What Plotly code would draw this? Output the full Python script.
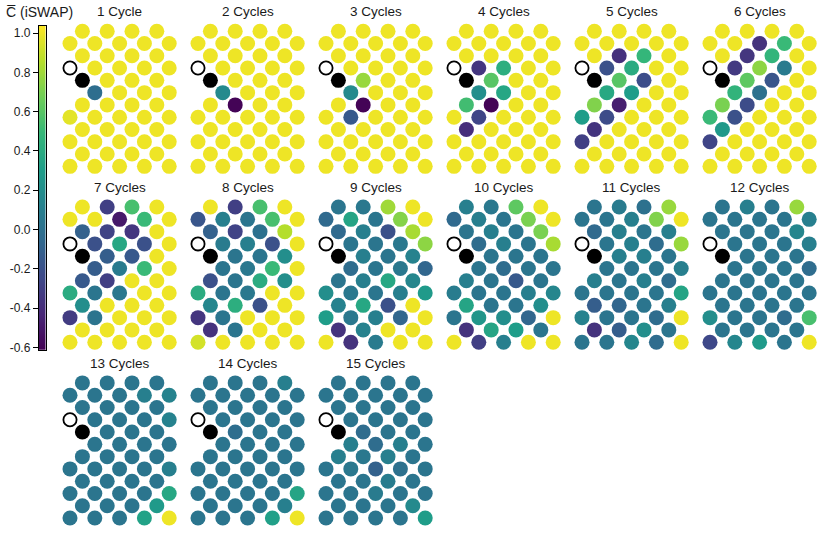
import numpy as np
import plotly.graph_objects as go

# ---------------- data ----------------
titles = ["1 Cycle"] + [f"{n} Cycles" for n in range(2, 16)]

# lattice sites (column, row) of the coloured qubits, listed row by row
site_row = ([0] * 4 + [1] * 5 + [2] * 4 + [3] * 4 + [4] * 3 + [5] * 4 +
            [6] * 4 + [7] * 5 + [8] * 4 + [9] * 5 + [10] * 4 + [11] * 5)
site_col = [1, 3, 5, 7,
            0, 2, 4, 6, 8,
            1, 3, 5, 7,
            2, 4, 6, 8,
            3, 5, 7,
            2, 4, 6, 8,
            1, 3, 5, 7,
            0, 2, 4, 6, 8,
            1, 3, 5, 7,
            0, 2, 4, 6, 8,
            1, 3, 5, 7,
            0, 2, 4, 6, 8]
measure_site = [0, 3]     # open circle (col, row)
butterfly_site = [1, 4]   # black circle (col, row)

c01 = [1, 1, 1, 1,  1, 1, 1, 1, 1,  1, 1, 1, 1,  1, 1, 1, 1,  1, 1, 1,
       -0.02, 1, 1, 1,  1, 1, 1, 1,  0.97, 1, 1, 1, 1,  1, 1, 1, 1,
       1, 1, 1, 1, 1,  1, 1, 1, 1,  1, 1, 1, 1, 1]
c02 = [1, 1, 1, 1,  1, 1, 1, 1, 1,  1, 1, 1, 1,  1, 1, 1, 1,  1, 1, 1,
       0.17, 1, 1, 1,  1, -0.6, 1, 1,  1, 1, 1, 1, 1,  1, 1, 1, 1,
       1, 1, 1, 1, 1,  1, 1, 1, 1,  1, 1, 1, 1, 1]
c03 = [1, 1, 1, 1,  1, 1, 1, 1, 1,  1, 1, 1, 1,  1, 1, 1, 1,  0.78, 1, 1,
       0.17, 1, 1, 1,  1, -0.6, 1, 1,  1, -0.15, 1, 1, 1,  1, 1, 1, 1,
       1, 1, 1, 1, 1,  1, 1, 1, 1,  1, 1, 1, 1, 1]
c04 = [1, 1, 1, 1,  1, 1, 1, 1, 1,  1, 1, 1, 1,  -0.35, 0.42, 1, 1,  0.6, 1, 1,
       0.2, 0.36, 1, 1,  0.53, -0.6, 1, 1,  1, -0.27, 1, 1, 1,  -0.4, 1, 1, 1,
       1, 1, 1, 1, 1,  1, 1, 1, 1,  1, 1, 1, 1, 1]
c05 = [1, 1, 1, 1,  1, 1, 1, 1, 1,  1, -0.38, 0.48, 1,  -0.2, 0.4, 1, 1,  0.6, -0.22, 1,
       0.38, 0.3, 1, 1,  0.72, -0.47, 1, 1,  0.3, -0.23, 1, 1, 1,  -0.36, 1, 1, 1,
       -0.3, 1, 1, 1, 1,  1, 1, 1, 1,  1, 1, 1, 1, 1]
c06 = [1, 1, 1, 1,  1, 1, -0.37, 0.5, 1,  1, -0.35, 0.47, 1,  -0.33, 0.75, 0.07, 1,  0.62, -0.17, 1,
       0.46, 0.0, 1, 1,  0.7, -0.23, 1, 1,  0.5, -0.2, 1, 1, 1,  0.27, 1, 1, 1,
       -0.27, 1, 1, 1, 1,  1, 1, 1, 1,  1, 1, 1, 1, 1]
c07 = [1, -0.3, 0.55, 1,  1, 1, -0.5, 0.5, 1,  -0.1, -0.28, -0.35, 1,  -0.2, 0.37, -0.2, 1,
       -0.12, -0.15, 1,  -0.13, 0.07, 0.5, 1,  -0.15, -0.3, 1, 1,  0.4, 0.03, 0.05, 1, 1,
       0.2, 1, 1, 1,  -0.32, 0.02, 1, 1, 1,  1, 1, 1, 1,  1, 1, 1, 1, 1]
c08 = [1, -0.3, 0.55, 1,  -0.17, 0.1, 0.03, 0.55, 1,  -0.1, -0.28, 0.0, 0.85,  0.07, 0.1, -0.2, 1,
       0.03, 0.03, 0.2,  0.03, 0.05, 0.5, 1,  -0.2, 0.03, 0.4, 0.2,  0.4, 0.03, 0.05, 1, 1,
       0.15, 0.42, -0.2, 1,  -0.35, 0.03, 1, 1, 1,  -0.37, 0.03, 1, 1,  0.93, 1, 1, 1, 1]
c09 = [0.03, 0.05, 0.8, 1,  -0.05, 0.35, 0.03, 0.73, 1,  -0.05, 0.1, -0.2, 0.82,  0.03, 0.03, 0.05, 0.75,
       0.1, 0.03, 0.12,  -0.03, 0.03, 0.05, -0.07,  0.03, 0.1, 0.37, 0.15,  0.2, 0.05, 0.03, 0.1, 0.28,
       0.12, 0.37, -0.2, 1,  0.3, 0.05, 0.1, -0.07, 1,  -0.37, 0.12, 1, 1,  1, -0.37, 0.07, 1, 1]
c10 = [0.1, 0.05, 0.62, 1,  -0.05, 0.1, 0.03, 0.7, 1,  0.03, 0.1, 0.03, 0.7,  -0.03, 0.1, 0.03, 0.82,
       0.03, 0.03, 0.03,  0.03, -0.03, 0.03, 0.03,  0.1, 0.03, -0.15, 0.03,  0.08, 0.03, 0.03, 0.1, 0.15,
       0.35, 0.03, 0.03, 0.2,  0.03, 0.25, 0.2, -0.07, 1,  -0.37, 0.35, 0.3, 0.03,  1, -0.3, 0.1, 1, 1]
c11 = [0.03, 0.07, 0.0, 0.78,  0.03, 0.03, 0.1, 0.72, 1,  -0.05, 0.1, 0.03, 0.1,  0.03, 0.1, -0.03, 0.78,
       0.1, 0.1, 0.03,  0.03, 0.03, 0.03, 0.1,  0.1, 0.03, 0.1, -0.03,  0.03, 0.03, 0.03, 0.03, 0.35,
       -0.12, -0.07, 0.03, 0.1,  0.12, 0.03, 0.03, -0.03, 1,  -0.37, -0.12, 0.2, 0.03,  0.03, 0.03, 0.15, -0.03, 1]
c12 = [0.03, 0.1, 0.03, 0.78,  0.03, 0.03, 0.03, 0.03, 0.1,  0.03, 0.03, 0.03, 0.15,  0.03, 0.03, 0.03, 0.1,
       0.03, 0.03, 0.03,  0.03, 0.03, 0.03, -0.03,  0.03, 0.03, 0.03, 0.03,  0.03, 0.03, 0.03, 0.03, 0.03,
       0.03, 0.03, 0.03, 0.03,  0.2, 0.03, 0.03, -0.03, 0.55,  0.03, 0.03, 0.03, 0.03,  -0.25, 0.15, 0.28, 0.03, 1]
c13 = [0.03, 0.03, 0.03, 0.03,  0.03, 0.03, 0.03, 0.1, 0.13,  0.03, 0.03, 0.03, 0.03,  0.03, 0.03, 0.03, 0.12,
       0.03, 0.03, 0.03,  0.03, 0.03, 0.03, 0.03,  0.03, 0.03, 0.03, 0.03,  0.03, 0.03, 0.03, 0.03, 0.1,
       0.03, 0.03, 0.03, 0.03,  0.03, 0.03, 0.03, 0.03, 0.37,  0.03, 0.03, 0.03, 0.28,  0.03, 0.03, 0.03, 0.33, 1]
c14 = [0.03, 0.03, 0.03, 0.1,  0.03, 0.03, 0.03, 0.03, 0.03,  0.03, 0.03, 0.03, 0.03,  0.03, 0.03, 0.03, 0.03,
       -0.02, 0.03, 0.03,  0.03, 0.03, 0.03, 0.03,  0.03, 0.03, 0.03, 0.03,  0.03, 0.03, 0.03, 0.03, 0.03,
       0.03, 0.03, 0.03, 0.03,  0.03, 0.03, 0.03, 0.03, 0.35,  0.03, 0.03, 0.03, 0.1,  0.03, 0.03, 0.03, 0.32, 1]
c15 = [0.03, 0.03, 0.03, 0.03,  0.03, 0.03, 0.03, 0.03, 0.03,  0.03, 0.03, 0.03, 0.03,  0.03, 0.03, 0.03, 0.03,
       -0.03, 0.03, 0.03,  0.1, -0.03, 0.1, 0.03,  0.1, 0.05, 0.1, 0.03,  0.03, 0.05, -0.1, 0.0, 0.03,
       0.03, 0.03, 0.08, 0.03,  0.03, 0.03, 0.07, 0.03, 0.03,  0.03, 0.03, 0.03, 0.17,  0.03, 0.03, 0.03, 0.03, 0.3]
panels = [c01, c02, c03, c04, c05, c06, c07, c08, c09, c10, c11, c12, c13, c14, c15]

tick_vals = [-0.6, -0.4, -0.2, 0.0, 0.2, 0.4, 0.6, 0.8, 1.0]
tick_text = ["-0.6", "-0.4", "-0.2", "0.0", "0.2", "0.4", "0.6", "0.8", "1.0"]
CMIN, CMAX = -0.612, 1.037

# ---------------- layout geometry (pixels) ----------------
W, H = 830, 540
PITCH = 12.4          # px per lattice unit
X0, DX = 70.0, 128.0  # left lattice column of first panel, panel step
Y0, DY = 31.5, 177.5  # top lattice row of first panel row, panel-row step
PAD = 0.8
FONT = "Liberation Sans, Arial, Helvetica, sans-serif"

fig = go.Figure()
layout = dict(
    width=W, height=H, margin=dict(l=0, r=0, t=0, b=0),
    paper_bgcolor="white", plot_bgcolor="white", showlegend=False,
    font=dict(family=FONT, color="#1a1a1a"),
    coloraxis=dict(colorscale="Viridis", cmin=CMIN, cmax=CMAX, showscale=False),
)
annotations = []

for k, vals in enumerate(panels):
    gc, gr = k % 6, k // 6
    n = k + 1
    xa = "x" if n == 1 else f"x{n}"
    ya = "y" if n == 1 else f"y{n}"
    left = X0 + DX * gc - PAD * PITCH
    right = X0 + DX * gc + (8 + PAD) * PITCH
    top = Y0 + DY * gr - PAD * PITCH
    bottom = Y0 + DY * gr + (11 + PAD) * PITCH
    layout["xaxis" if n == 1 else f"xaxis{n}"] = dict(
        domain=[left / W, right / W], range=[-PAD, 8 + PAD], visible=False,
        fixedrange=True, anchor=ya)
    layout["yaxis" if n == 1 else f"yaxis{n}"] = dict(
        domain=[1 - bottom / H, 1 - top / H], range=[11 + PAD, -PAD], visible=False,
        fixedrange=True, anchor=xa)

    fig.add_trace(go.Scatter(
        x=site_col, y=site_row, mode="markers", xaxis=xa, yaxis=ya,
        marker=dict(size=15, color=vals, coloraxis="coloraxis", line=dict(width=0)),
        cliponaxis=False, hoverinfo="skip"))
    fig.add_trace(go.Scatter(
        x=[butterfly_site[0]], y=[butterfly_site[1]], mode="markers", xaxis=xa, yaxis=ya,
        marker=dict(size=15, color="black", line=dict(width=0)),
        cliponaxis=False, hoverinfo="skip"))
    fig.add_trace(go.Scatter(
        x=[measure_site[0]], y=[measure_site[1]], mode="markers", xaxis=xa, yaxis=ya,
        marker=dict(size=13.2, color="white", line=dict(width=1.8, color="black")),
        cliponaxis=False, hoverinfo="skip"))

    annotations.append(dict(
        text=titles[k], xref="paper", yref="paper",
        x=(X0 + DX * gc + 4 * PITCH) / W, y=1 - (Y0 + DY * gr - 19.5) / H,
        xanchor="center", yanchor="middle", showarrow=False,
        font=dict(size=13.5, family=FONT, color="#1a1a1a")))

# ---------------- colour bar drawn as a heatmap on its own axes ----------------
grad = np.linspace(CMIN, CMAX, 300)
fig.add_trace(go.Heatmap(
    z=grad[:, None], x=[0], y=grad, coloraxis="coloraxis",
    xaxis="x16", yaxis="y16", hoverinfo="skip"))
layout["xaxis16"] = dict(domain=[39 / W, 45.5 / W], range=[-0.5, 0.5],
                         showticklabels=False, ticks="", showgrid=False, zeroline=False,
                         showline=True, mirror=True, linecolor="black", linewidth=1.2,
                         anchor="y16", fixedrange=True)
layout["yaxis16"] = dict(domain=[1 - 353 / H, 1 - 26 / H], range=[CMIN, CMAX],
                         tickvals=tick_vals, ticktext=tick_text, side="left",
                         ticks="outside", ticklen=5, tickwidth=1, tickcolor="black",
                         tickfont=dict(size=12, family=FONT, color="#1a1a1a"),
                         showgrid=False, zeroline=False,
                         showline=True, mirror=True, linecolor="black", linewidth=1.2,
                         anchor="x16", fixedrange=True)

annotations.append(dict(
    text="C\u0305 (iSWAP)", xref="paper", yref="paper",
    x=4 / W, y=1 - 12 / H, xanchor="left", yanchor="middle", showarrow=False,
    font=dict(size=14, family=FONT, color="#1a1a1a")))

layout["annotations"] = annotations
fig.update_layout(**layout)

# pin the figure to the page origin with no extra page height
page_fix = (
    "document.documentElement.style.margin='0';"
    "document.documentElement.style.overflow='hidden';"
    "document.body.style.margin='0';"
    "document.body.style.overflow='hidden';"
    "document.body.style.height='540px';"
    "var gd=document.getElementById('{plot_id}');"
    "gd.style.overflow='hidden';gd.style.display='block';"
    "gd.parentElement.style.height='540px';gd.parentElement.style.overflow='hidden';"
)
fig.write_html("out.html", post_script=page_fix,
               config={"displayModeBar": False, "staticPlot": True})
